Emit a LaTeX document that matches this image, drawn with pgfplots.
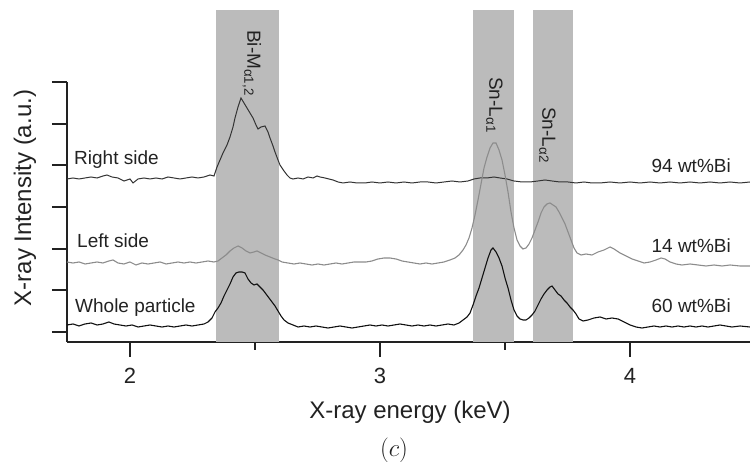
\documentclass[border=0pt]{standalone}
\usepackage{fontspec}
\setmainfont{Liberation Sans}
\usepackage{pgfplots}
\pgfplotsset{compat=1.18}

\definecolor{txt}{HTML}{222222}
\definecolor{band}{HTML}{BBBBBB}
\definecolor{rightc}{HTML}{333333}
\definecolor{leftc}{HTML}{8C8C8C}
\definecolor{wholec}{HTML}{111111}

\pgfplotstableread{
x y
1.748 153
1.772 154
1.796 153
1.820 154
1.844 155
1.868 154
1.892 156
1.908 157
1.928 155
1.952 154
1.976 151
2.000 153
2.012 149
2.032 153
2.056 154
2.080 153
2.104 154
2.128 153
2.152 155
2.176 154
2.200 153
2.224 154
2.248 155
2.272 154
2.296 155
2.320 157
2.336 156
2.348 165
2.360 172
2.372 179
2.388 187
2.400 195
2.412 205
2.420 214
2.432 225
2.444 234
2.456 229
2.468 224
2.480 219
2.492 214
2.504 207
2.512 203
2.524 205
2.540 206
2.552 200
2.560 194
2.572 186
2.580 180
2.592 172
2.600 167
2.616 161
2.628 157
2.640 154
2.652 153
2.672 154
2.692 153
2.712 155
2.732 154
2.748 156
2.760 155
2.780 154
2.796 153
2.812 152
2.832 150
2.852 149
2.880 150
2.908 149
2.940 149
2.968 150
3.000 149
3.032 150
3.064 149
3.096 150
3.128 149
3.160 150
3.192 150
3.224 149
3.256 150
3.288 151
3.320 150
3.352 151
3.376 153
3.400 154
3.428 154
3.456 155
3.480 154
3.508 153
3.536 151
3.568 150
3.600 150
3.632 151
3.660 152
3.688 151
3.720 150
3.752 150
3.784 149
3.816 150
3.848 149
3.880 149
3.920 150
3.960 149
4.000 150
4.040 149
4.080 150
4.120 149
4.160 150
4.200 149
4.240 150
4.280 149
4.320 150
4.360 149
4.400 150
4.440 149
4.480 150
}\rightside

\pgfplotstableread{
x y
1.748 70
1.772 69
1.796 70
1.820 68
1.844 69
1.868 70
1.892 69
1.916 71
1.932 72
1.952 69
1.976 68
2.000 70
2.024 67
2.048 69
2.072 68
2.096 69
2.120 70
2.144 68
2.168 69
2.192 70
2.216 69
2.240 70
2.264 69
2.288 70
2.312 71
2.336 70
2.352 71
2.368 74
2.384 77
2.400 81
2.416 84
2.432 86
2.448 84
2.464 81
2.480 79
2.496 80
2.508 81
2.524 79
2.540 77
2.560 75
2.580 73
2.592 72
2.608 70
2.632 69
2.656 68
2.680 69
2.704 68
2.728 67
2.752 68
2.776 67
2.800 68
2.824 69
2.848 68
2.872 69
2.896 70
2.920 70
2.944 70
2.968 71
2.992 73
3.016 74
3.040 74
3.064 73
3.088 71
3.112 70
3.136 69
3.160 68
3.184 69
3.208 68
3.232 69
3.256 70
3.280 72
3.300 74
3.316 77
3.332 82
3.344 87
3.356 94
3.368 104
3.380 117
3.392 132
3.404 148
3.416 164
3.428 175
3.440 184
3.452 189
3.464 189
3.476 182
3.488 172
3.500 157
3.512 140
3.524 120
3.536 104
3.548 92
3.560 86
3.572 83
3.584 84
3.596 88
3.608 94
3.620 102
3.632 110
3.644 119
3.656 125
3.668 128
3.680 129
3.692 127
3.704 125
3.716 120
3.728 114
3.740 108
3.752 100
3.764 92
3.776 84
3.788 79
3.804 77
3.824 78
3.848 77
3.872 80
3.896 82
3.920 85
3.936 83
3.960 79
3.984 76
4.008 73
4.032 71
4.056 69
4.080 70
4.104 72
4.124 74
4.140 73
4.160 70
4.184 68
4.208 67
4.240 68
4.272 67
4.304 66
4.336 67
4.368 66
4.400 67
4.440 66
4.480 66
}\leftside

\pgfplotstableread{
x y
1.748 7
1.772 8
1.796 6
1.820 8
1.844 9
1.868 7
1.892 8
1.916 10
1.936 8
1.960 7
1.984 6
2.008 7
2.032 5
2.056 6
2.080 7
2.104 6
2.128 5
2.152 6
2.176 5
2.200 6
2.224 7
2.248 6
2.272 7
2.296 8
2.312 10
2.328 14
2.340 20
2.352 24
2.364 29
2.376 36
2.388 42
2.400 48
2.412 55
2.424 59
2.436 60
2.448 60
2.460 59
2.472 53
2.484 49
2.496 47
2.508 48
2.520 45
2.532 42
2.544 38
2.556 34
2.568 30
2.580 26
2.592 21
2.604 16
2.616 12
2.632 9
2.652 7
2.672 5
2.696 6
2.720 5
2.744 6
2.768 5
2.792 4
2.816 5
2.840 6
2.864 5
2.888 4
2.912 5
2.936 6
2.960 7
2.984 6
3.008 7
3.032 6
3.056 7
3.080 8
3.104 7
3.128 6
3.152 7
3.176 6
3.200 7
3.224 6
3.248 7
3.272 8
3.296 7
3.316 9
3.332 12
3.348 15
3.360 19
3.372 27
3.384 36
3.396 44
3.408 54
3.420 64
3.432 74
3.444 82
3.452 84
3.464 80
3.476 74
3.488 66
3.500 54
3.512 44
3.524 32
3.536 22
3.548 16
3.560 13
3.572 12
3.584 12
3.596 14
3.608 17
3.620 21
3.632 27
3.644 33
3.656 38
3.668 42
3.680 45
3.688 46
3.700 42
3.712 38
3.724 36
3.736 32
3.748 29
3.760 25
3.772 22
3.784 18
3.796 13
3.812 11
3.832 12
3.856 14
3.880 15
3.904 13
3.928 14
3.952 13
3.976 10
4.000 7
4.024 5
4.048 4
4.072 5
4.096 6
4.120 5
4.144 6
4.168 5
4.192 6
4.216 5
4.240 6
4.264 5
4.288 6
4.312 5
4.336 6
4.360 7
4.384 6
4.408 5
4.440 6
4.480 5
}\whole

\begin{document}
\begin{tikzpicture}[x=1bp,y=1bp]
\useasboundingbox (0,0) rectangle (750,462);
\begin{axis}[
  at={(67bp,120bp)}, anchor=south west,
  scale only axis,
  width=683bp, height=260bp,
  xmin=1.748, xmax=4.48,
  ymin=-10, ymax=250,
  clip=false,
  axis x line=bottom, axis y line=left,
  axis line style={-, line width=1.8bp, color=txt},
  tick align=outside,
  xtick={2,3,4},
  minor xtick={2.5,3.5},
  ytick={0,41.67,83.33,125,166.67,208.33,250},
  yticklabels={},
  major tick length=15bp,
  minor tick length=8bp,
  every tick/.style={line width=2bp, color=txt},
  xticklabel style={font=\fontsize{22bp}{24bp}\selectfont, text=txt, yshift=-8bp},
  /pgf/number format/assume math mode=true,
]
% shaded line windows
\fill[band] (axis cs:2.344,-10) rectangle (axis cs:2.596,322);
\fill[band] (axis cs:3.372,-10) rectangle (axis cs:3.536,322);
\fill[band] (axis cs:3.612,-10) rectangle (axis cs:3.772,322);

\addplot[rightc, line width=1bp] table {\rightside};
\addplot[leftc, line width=1.1bp] table {\leftside};
\addplot[wholec, line width=1.1bp] table {\whole};

\begin{scope}[every node/.style={font=\fontsize{19bp}{22bp}\selectfont, text=txt, inner sep=0pt}]
\node[anchor=base west] at (axis cs:1.776,167) {Right side};
\node[anchor=base west] at (axis cs:1.788,84) {Left side};
\node[anchor=base west] at (axis cs:1.780,19) {Whole particle};
\node[anchor=base east] at (axis cs:4.404,159) {94 wt\%Bi};
\node[anchor=base east] at (axis cs:4.404,79) {14 wt\%Bi};
\node[anchor=base east] at (axis cs:4.404,19) {60 wt\%Bi};
\node[rotate=-90, anchor=mid west] at (axis cs:2.480,302) {Bi-M\textsubscript{α1,2}};
\node[rotate=-90, anchor=mid west] at (axis cs:3.448,255) {Sn-L\textsubscript{α1}};
\node[rotate=-90, anchor=mid west] at (axis cs:3.660,225) {Sn-L\textsubscript{α2}};
\end{scope}
\end{axis}
\node[font=\fontsize{24bp}{28bp}\selectfont, text=txt, anchor=base] at (410,43) {X-ray energy (keV)};
\node[font=\fontsize{24bp}{28bp}\selectfont, text=txt, rotate=90] at (25,264) {X-ray Intensity (a.u.)};
\node[font=\fontsize{24bp}{28bp}\selectfont, text=txt] at (394,12) {$(c)$};
\end{tikzpicture}
\end{document}
